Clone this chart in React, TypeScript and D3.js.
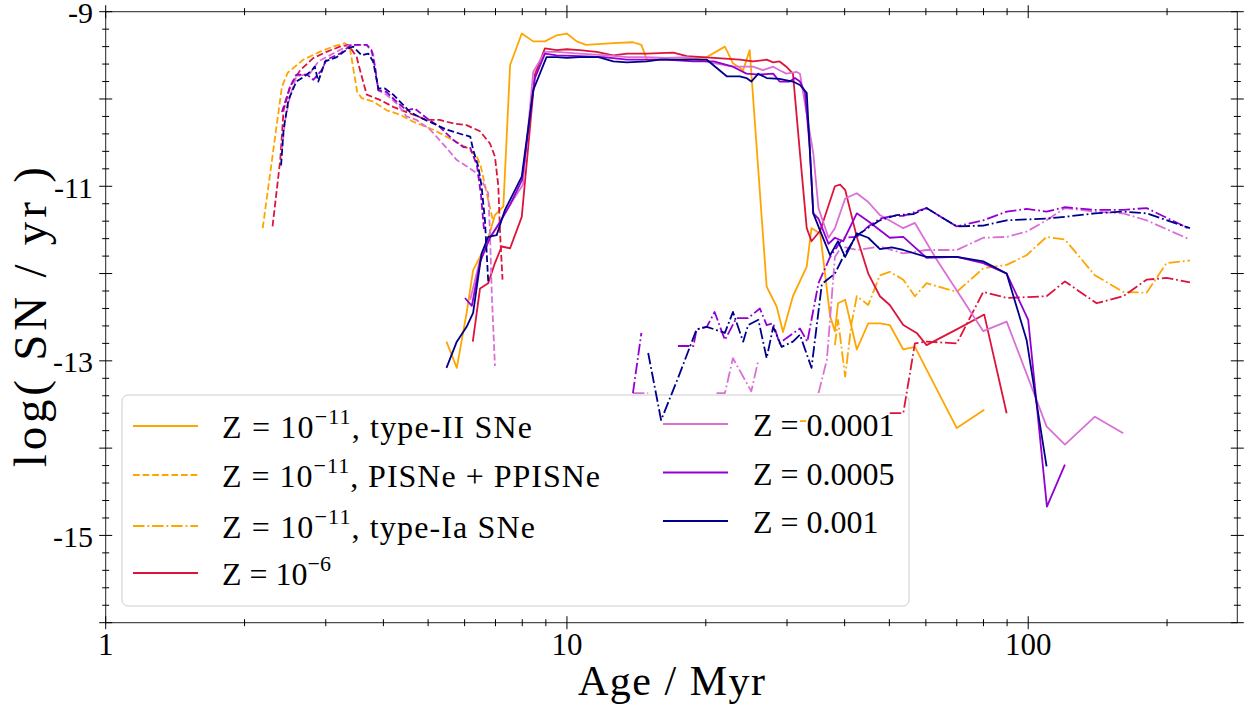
import React from 'react';
import * as d3 from 'd3';

type Pt = [number, number | null];

// ---- axes ----
const xDomain: [number, number] = [1, 284];
const yDomain: [number, number] = [-16, -9];
const yTickLabels = [-9, -11, -13, -15];
const xTickLabels = [1, 10, 100];

// ---- Z = 1e-11 ----
const z11TypeII: Pt[] = [[5.48,-12.78],[5.77,-13.08],[6.06,-12.45],[6.26,-11.96],[6.48,-11.81],[6.70,-11.65],[6.98,-11.33],[7.28,-11.23],[7.53,-9.61],[7.98,-9.25],[8.45,-9.34],[8.96,-9.34],[9.50,-9.27],[9.99,-9.25],[10.5,-9.34],[11.0,-9.38],[12.6,-9.36],[13.9,-9.35],[14.5,-9.38],[14.9,-9.55],[17.6,-9.55],[20.1,-9.52],[22.0,-9.40],[22.9,-9.59],[24.1,-9.67],[24.9,-9.44],[27.1,-12.15],[28.5,-12.38],[29.4,-12.67],[30.9,-12.26],[33.1,-11.92],[33.9,-11.48],[35.4,-11.54],[37.2,-12.49],[38.1,-12.66],[38.7,-12.34],[40.1,-12.30],[42.5,-12.87],[45.0,-12.57],[47.7,-12.57],[50.1,-12.59],[53.6,-12.87],[56.8,-12.84],[70.0,-13.77],[80.3,-13.56]];
const z11PISN: Pt[] = [[2.19,-11.48],[2.41,-9.86],[2.48,-9.70],[2.68,-9.55],[2.91,-9.46],[3.11,-9.40],[3.30,-9.36],[3.38,-9.40],[3.51,-9.92],[3.59,-9.99],[3.80,-10.03],[4.07,-10.13],[4.35,-10.18],[4.64,-10.26],[5.12,-10.35],[5.66,-10.47],[6.07,-10.56],[6.38,-10.66],[6.51,-10.78],[6.71,-11.10],[6.91,-11.39]];
const z11TypeIa: Pt[] = [[32.0,-13.69],[33.0,-13.69],[35.0,null],[38.1,-12.82],[38.7,-12.53],[40.1,-13.18],[41.4,-12.57],[42.5,-12.26],[45.0,-12.36],[47.7,-12.02],[50.1,-11.98],[53.6,-12.07],[56.8,-12.26],[60.2,-12.11],[70.0,-12.21],[79.9,-11.94],[89.8,-11.90],[99.2,-11.79],[109.6,-11.58],[120.1,-11.61],[139.5,-12.02],[160.7,-12.21],[180.6,-12.22],[199.5,-11.88],[224.2,-11.85]];

// ---- Z = 1e-6 ----
const z6TypeII: Pt[] = [[6.25,-12.78],[6.48,-12.17],[6.75,-12.11],[6.98,-11.88],[7.22,-11.69],[7.53,-11.71],[7.98,-11.35],[8.52,-9.72],[8.96,-9.42],[9.50,-9.44],[9.99,-9.43],[10.65,-9.44],[11.6,-9.46],[12.6,-9.50],[13.5,-9.48],[14.9,-9.48],[17.0,-9.47],[18.2,-9.51],[20.8,-9.53],[23.7,-9.55],[25.3,-9.57],[27.1,-9.55],[28.0,-9.58],[28.9,-9.57],[29.9,-9.63],[30.9,-9.71],[32.0,-10.62],[33.1,-11.48],[33.9,-11.63],[35.4,-11.51],[38.1,-11.00],[39.1,-10.98],[40.1,-11.04],[42.5,-11.58],[45.0,-12.00],[47.7,-12.26],[50.1,-12.36],[53.6,-12.59],[57.3,-12.68],[60.2,-12.82],[70.0,-12.64],[80.3,-12.47],[89.8,-13.60]];
const z6PISN: Pt[] = [[2.30,-11.46],[2.39,-10.70],[2.43,-10.13],[2.51,-9.86],[2.64,-9.67],[2.82,-9.53],[3.01,-9.46],[3.22,-9.40],[3.36,-9.38],[3.50,-9.52],[3.56,-9.67],[3.68,-9.95],[3.93,-10.01],[4.20,-10.09],[4.49,-10.15],[4.97,-10.24],[5.30,-10.24],[5.67,-10.28],[6.06,-10.30],[6.48,-10.37],[6.81,-10.51],[6.98,-10.66],[7.10,-11.00],[7.16,-11.53],[7.25,-12.07]];
const z6TypeIa: Pt[] = [[50.1,-13.60],[53.6,-13.60],[56.8,-12.80],[60.2,-12.78],[70.0,-12.80],[79.9,-12.21],[89.8,-12.28],[109.6,-12.26],[120.1,-12.09],[140.7,-12.34],[160.7,-12.26],[180.6,-12.07],[199.5,-12.05],[224.2,-12.10]];

// ---- Z = 0.0001 ----
const z4TypeII: Pt[] = [[6.17,-12.30],[6.48,-11.84],[6.81,-11.59],[7.16,-11.41],[7.53,-11.21],[8.03,-10.98],[8.45,-9.69],[8.96,-9.46],[9.50,-9.46],[10.65,-9.48],[12.2,-9.50],[13.5,-9.52],[14.9,-9.52],[16.4,-9.53],[18.2,-9.52],[20.8,-9.59],[22.9,-9.63],[25.3,-9.63],[26.6,-9.67],[28.0,-9.63],[28.9,-9.67],[29.9,-9.71],[31.5,-9.69],[32.0,-9.71],[32.8,-10.05],[34.2,-10.62],[35.1,-11.25],[36.9,-11.59],[38.1,-11.48],[40.1,-11.14],[42.5,-11.08],[45.0,-11.18],[47.7,-11.33],[53.6,-11.48],[56.8,-11.42],[63.3,-11.84],[79.9,-12.66],[89.8,-12.55],[109.6,-13.75],[120.1,-13.96],[139.5,-13.64],[160.7,-13.83]];
const z4PISN: Pt[] = [[2.41,-10.58],[2.45,-10.24],[2.51,-9.97],[2.59,-9.74],[2.77,-9.71],[2.89,-9.57],[3.11,-9.48],[3.38,-9.38],[3.68,-9.38],[3.80,-9.48],[3.90,-9.90],[4.06,-9.95],[4.31,-10.07],[4.49,-10.20],[4.72,-10.24],[5.05,-10.35],[5.48,-10.56],[5.77,-10.70],[6.06,-10.77],[6.37,-10.85],[6.64,-11.00],[6.75,-11.08],[6.81,-11.54],[6.87,-12.22],[6.98,-13.06]];
const z4TypeIa: Pt[] = [[13.9,-13.37],[15.0,-13.37],[16.0,null],[21.1,-13.37],[22.0,-13.37],[22.9,-12.97],[25.1,-13.35],[26.0,-12.99],[27.1,null],[35.1,-13.37],[36.6,-12.99],[38.1,-11.81],[39.4,-11.69],[42.5,-11.73],[47.7,-11.69],[53.6,-11.77],[60.2,-11.73],[70.0,-11.73],[79.9,-11.59],[89.8,-11.58],[99.2,-11.52],[109.6,-11.39],[120.1,-11.25],[139.5,-11.29],[160.7,-11.31],[180.6,-11.39],[224.2,-11.61]];

// ---- Z = 0.0005 ----
const z5TypeII: Pt[] = [[6.01,-12.28],[6.22,-12.37],[6.48,-11.87],[6.81,-11.59],[7.16,-11.41],[7.53,-11.21],[7.99,-10.93],[8.52,-9.76],[8.96,-9.48],[9.50,-9.50],[10.65,-9.51],[12.0,-9.52],[13.5,-9.55],[14.9,-9.55],[16.4,-9.55],[18.8,-9.57],[20.8,-9.57],[22.9,-9.63],[24.5,-9.71],[26.2,-9.72],[28.0,-9.71],[28.9,-9.80],[30.4,-9.80],[31.2,-9.76],[32.0,-9.80],[32.8,-9.92],[33.6,-10.55],[34.2,-11.31],[35.1,-11.37],[36.9,-11.66],[38.1,-11.59],[39.7,-11.63],[42.5,-11.31],[45.0,-11.40],[50.1,-11.59],[53.6,-11.58],[60.2,-11.82],[70.0,-11.81],[79.9,-11.88],[89.8,-12.00],[100,-12.53],[109.8,-14.67],[120.1,-14.19]];
const z5PISN: Pt[] = [[2.41,-10.15],[2.51,-9.86],[2.59,-9.72],[2.73,-9.72],[2.82,-9.78],[2.94,-9.67],[3.01,-9.55],[3.22,-9.48],[3.41,-9.38],[3.68,-9.38],[3.77,-9.44],[3.84,-9.65],[3.90,-9.90],[4.06,-9.92],[4.27,-10.03],[4.49,-10.13],[4.68,-10.11],[4.97,-10.22],[5.30,-10.32],[5.67,-10.47],[5.96,-10.55],[6.17,-10.56],[6.38,-10.76],[6.51,-11.10],[6.61,-11.50]];
const z5TypeIa: Pt[] = [[13.9,-13.37],[14.5,-12.68],[15.5,null],[17.4,-12.83],[18.8,-12.83],[19.1,-12.64],[20.1,-12.61],[20.9,-12.44],[22.0,-12.76],[23.3,-12.51],[24.7,-12.51],[26.2,-12.40],[27.1,-12.59],[28.0,-12.57],[28.9,-12.80],[29.9,-12.74],[32.0,-12.63],[33.2,-12.78],[35.1,-12.11],[37.2,-11.81],[39.7,-11.59],[42.5,-11.58],[45.0,-11.46],[47.7,-11.37],[50.6,-11.34],[53.6,-11.34],[60.2,-11.25],[70.0,-11.46],[79.9,-11.39],[89.8,-11.29],[99.2,-11.26],[109.6,-11.29],[120.1,-11.24],[139.5,-11.27],[160.7,-11.27],[180.6,-11.25],[224.2,-11.49]];

// ---- Z = 0.001 ----
const z3TypeII: Pt[] = [[5.48,-13.08],[5.77,-12.78],[6.06,-12.61],[6.26,-12.45],[6.53,-11.77],[6.75,-11.58],[7.04,-11.56],[7.34,-11.27],[7.98,-10.89],[8.45,-9.90],[9.03,-9.52],[9.50,-9.52],[9.99,-9.53],[10.65,-9.52],[11.7,-9.52],[12.6,-9.57],[13.5,-9.58],[14.9,-9.57],[15.9,-9.55],[17.6,-9.55],[20.1,-9.55],[22.2,-9.74],[23.7,-9.74],[24.5,-9.76],[25.1,-9.80],[26.0,-9.71],[27.1,-9.76],[28.9,-9.77],[30.9,-9.80],[32.0,-9.84],[33.1,-9.93],[34.2,-11.31],[35.7,-11.56],[37.2,-11.79],[38.7,-11.63],[40.1,-11.81],[42.5,-11.54],[45.0,-11.59],[47.7,-11.72],[50.6,-11.70],[53.6,-11.73],[60.2,-11.81],[70.0,-11.81],[79.9,-11.86],[89.8,-12.00],[99.2,-12.76],[109.6,-14.21]];
const z3PISN: Pt[] = [[2.40,-10.76],[2.43,-10.35],[2.49,-10.01],[2.59,-9.80],[2.70,-9.74],[2.80,-9.67],[2.84,-9.63],[2.89,-9.80],[2.99,-9.57],[3.17,-9.52],[3.36,-9.42],[3.44,-9.40],[3.59,-9.50],[3.71,-9.48],[3.80,-9.57],[3.90,-9.88],[4.03,-9.88],[4.20,-9.95],[4.42,-10.07],[4.57,-10.15],[4.84,-10.22],[5.13,-10.28],[5.48,-10.35],[5.96,-10.41],[6.17,-10.43],[6.26,-10.58],[6.42,-10.77],[6.53,-11.00],[6.64,-11.39],[6.70,-11.77],[6.75,-12.09]];
const z3TypeIa: Pt[] = [[15.0,-12.91],[16.0,-13.68],[17.4,-13.20],[19.1,-12.64],[20.1,-12.61],[22.0,-12.68],[22.9,-12.44],[24.1,-12.78],[24.7,-12.59],[26.0,-12.53],[27.1,-12.97],[28.0,-12.61],[29.2,-12.84],[30.9,-12.78],[32.0,-12.70],[33.9,-13.08],[35.7,-12.12],[38.1,-12.00],[39.7,-11.81],[42.5,-11.56],[47.7,-11.39],[51.8,-11.33],[56.3,-11.32],[60.2,-11.25],[70.0,-11.46],[79.9,-11.45],[89.8,-11.39],[109.6,-11.37],[120.1,-11.35],[139.5,-11.31],[160.7,-11.29],[180.6,-11.31],[224.2,-11.48]];

const COL = { z11: '#FFA500', z6: '#DC143C', z4: '#DA70D6', z5: '#9400D3', z3: '#00008B' };
const LW = 1.8;
const DASHED = '6.7,2.9';
const DASHDOT = '11.5,2.9,1.8,2.9';

const series = [
  { data: z11TypeII, color: COL.z11, dash: undefined },
  { data: z11PISN, color: COL.z11, dash: DASHED },
  { data: z11TypeIa, color: COL.z11, dash: DASHDOT },
  { data: z6TypeII, color: COL.z6, dash: undefined },
  { data: z6PISN, color: COL.z6, dash: DASHED },
  { data: z6TypeIa, color: COL.z6, dash: DASHDOT },
  { data: z4TypeII, color: COL.z4, dash: undefined },
  { data: z4PISN, color: COL.z4, dash: DASHED },
  { data: z4TypeIa, color: COL.z4, dash: DASHDOT },
  { data: z5TypeII, color: COL.z5, dash: undefined },
  { data: z5PISN, color: COL.z5, dash: DASHED },
  { data: z5TypeIa, color: COL.z5, dash: DASHDOT },
  { data: z3TypeII, color: COL.z3, dash: undefined },
  { data: z3PISN, color: COL.z3, dash: DASHED },
  { data: z3TypeIa, color: COL.z3, dash: DASHDOT },
];

const legendCol1 = [
  { base: 'Z = 10', sup: '\u221211', tail: ', type-II SNe', color: COL.z11, dash: undefined, w: 310 },
  { base: 'Z = 10', sup: '\u221211', tail: ', PISNe + PPISNe', color: COL.z11, dash: DASHED, w: 378 },
  { base: 'Z = 10', sup: '\u221211', tail: ', type-Ia SNe', color: COL.z11, dash: DASHDOT, w: 313 },
  { base: 'Z = 10', sup: '\u22126', tail: '', color: COL.z6, dash: undefined, w: 0 },
];
const legendCol2 = [
  { base: 'Z = 0.0001', sup: '', tail: '', color: COL.z4, dash: undefined, w: 0 },
  { base: 'Z = 0.0005', sup: '', tail: '', color: COL.z5, dash: undefined, w: 0 },
  { base: 'Z = 0.001', sup: '', tail: '', color: COL.z3, dash: undefined, w: 0 },
];

const W = 1249, H = 708;
const L = 105.7, R = 1237.3, T = 11.7, B = 622.7;
const FONT = '"Liberation Serif", "DejaVu Serif", serif';

export default function App() {
  const x = d3.scaleLog().domain(xDomain).range([L, R]);
  const y = d3.scaleLinear().domain(yDomain).range([B, T]);
  const line = d3.line<Pt>()
    .defined(d => d[1] !== null)
    .x(d => x(d[0]))
    .y(d => y(d[1] as number));

  const xTicks = x.ticks();
  const isMajorX = (v: number) => Math.abs(Math.log10(v) - Math.round(Math.log10(v))) < 1e-9;
  const yTicks = d3.range(0, 36).map(i => yDomain[0] + i * 0.2);
  const isMajorY = (v: number) => Math.abs(v - Math.round(v)) < 1e-6;

  const tickStroke = '#000';
  const legendRows1 = [426, 475, 526, 573];
  const legendRows2 = [424, 472.5, 521];

  const renderLegendItem = (it: any, yy: number, hx0: number, hx1: number, tx: number, key: string) => (
    <g key={key}>
      <line x1={hx0} x2={hx1} y1={yy} y2={yy} stroke={it.color} strokeWidth={LW} strokeDasharray={it.dash} />
      <text x={tx} y={yy + 12} fontSize={32} style={{ fontFamily: FONT }} fill="#000"
        {...(it.w ? { textLength: it.w, lengthAdjust: 'spacing' } : {})}>
        {it.base}
        {it.sup ? <tspan dy={-14} fontSize={22}>{it.sup}</tspan> : null}
        {it.tail ? <tspan dy={14}>{it.tail}</tspan> : null}
      </text>
    </g>
  );

  return (
    <svg width={W} height={H} style={{ position: 'absolute', left: 0, top: 0, display: 'block', background: '#fff' }}>
      <defs>
        <clipPath id="plotclip">
          <rect x={L} y={T} width={R - L} height={B - T} />
        </clipPath>
      </defs>
      <rect x={0} y={0} width={W} height={H} fill="#fff" />

      {/* legend frame */}
      <rect x={122} y={395} width={787} height={211} rx={6} ry={6} fill="#fff" fillOpacity={0.8} stroke="#cccccc" strokeWidth={1} />

      {/* data lines */}
      <g clipPath="url(#plotclip)">
        {series.map((s, i) => (
          <path key={i} d={line(s.data) || ''} fill="none" stroke={s.color} strokeWidth={LW}
            strokeDasharray={s.dash} strokeLinejoin="round" />
        ))}
      </g>

      {/* spines */}
      <rect x={L} y={T} width={R - L} height={B - T} fill="none" stroke="#222" strokeWidth={1} />

      {/* x ticks bottom & top */}
      {xTicks.map((v, i) => {
        const px = x(v);
        const len = isMajorX(v) ? 6.5 : 3.5;
        return (
          <g key={'xt' + i}>
            <line x1={px} x2={px} y1={B - len} y2={B + len} stroke={tickStroke} strokeWidth={1} />
            <line x1={px} x2={px} y1={T - len} y2={T + len} stroke={tickStroke} strokeWidth={1} />
          </g>
        );
      })}
      {xTickLabels.map(v => (
        <text key={'xl' + v} x={x(v)} y={655} textAnchor="middle" fontSize={31} style={{ fontFamily: FONT }} fill="#000">{v}</text>
      ))}

      {/* y ticks left & right */}
      {yTicks.map((v, i) => {
        const py = y(v);
        const len = isMajorY(v) ? 6.5 : 3.5;
        return (
          <g key={'yt' + i}>
            <line x1={L - len} x2={L + len} y1={py} y2={py} stroke={tickStroke} strokeWidth={1} />
            <line x1={R - len} x2={R + len} y1={py} y2={py} stroke={tickStroke} strokeWidth={1} />
          </g>
        );
      })}
      {yTickLabels.map(v => (
        <text key={'yl' + v} x={93} y={y(v) + 11.5} textAnchor="end" fontSize={30} style={{ fontFamily: FONT }} fill="#000">{String(v)}</text>
      ))}

      {/* axis labels */}
      <text x={(L + R) / 2} y={695} textAnchor="middle" fontSize={42} style={{ fontFamily: FONT }} fill="#000"
        textLength={187} lengthAdjust="spacing">Age / Myr</text>
      <text transform={`translate(46, ${(T + B) / 2}) rotate(-90)`} textAnchor="middle" fontSize={47} style={{ fontFamily: FONT }} fill="#000"
        textLength={300} lengthAdjust="spacing">log( SN / yr )</text>

      {/* legend entries */}
      {legendCol1.map((it, i) => renderLegendItem(it, legendRows1[i], 133, 198, 222, 'l1' + i))}
      {legendCol2.map((it, i) => renderLegendItem(it, legendRows2[i], 663, 728, 753, 'l2' + i))}
    </svg>
  );
}
